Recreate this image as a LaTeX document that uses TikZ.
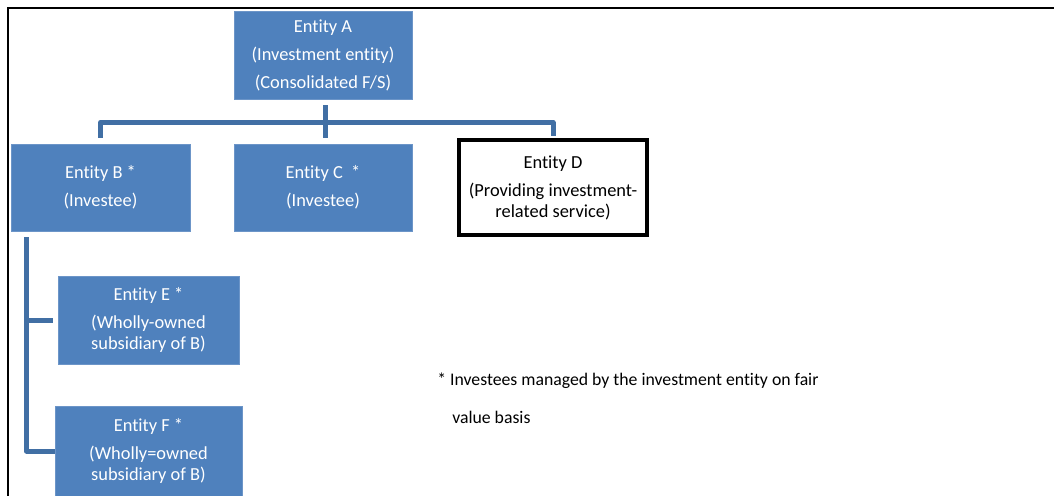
\documentclass[tikz,border=0pt]{standalone}
\usepackage{fontspec}
\setmainfont{Carlito}[Ligatures=NoCommon]
\usetikzlibrary{calc, positioning}

\definecolor{boxblue}{HTML}{4F81BD}
\definecolor{boxedge}{HTML}{6C95C8}
\definecolor{linkblue}{HTML}{416FA4}

\begin{document}
\begin{tikzpicture}[x=0.75pt, y=-0.75pt, inner sep=0pt,
    every node/.style={font=\fontsize{13.8}{15.75}\selectfont},
    entity/.style={fill=boxblue, draw=boxedge, line width=0.6pt,
      text=white, align=center, minimum width=133.5pt, minimum height=66pt},
    service/.style={draw=black, line width=3pt, fill=white, align=center,
      minimum width=141pt, minimum height=71.25pt},
    link/.style={draw=linkblue, line width=3.75pt, line join=round},
    footnote/.style={anchor=base west, font=\fontsize{13.3}{15.75}\selectfont},
    frame/.style={draw=black, line width=1.8pt}]
    \useasboundingbox (0,0) rectangle (1054,496);
    \clip (0,0) rectangle (1054,496);

    \draw[frame] (8,496) -- (8,8) -- (1054,8);

    \node[entity] at (323, 55) (a) {Entity A\\[5.25pt] (Investment entity)\\[5.25pt] (Consolidated F/S)};
    \node[entity, minimum width=134.25pt, minimum height=65.25pt] at (100.5, 187.5) (b) {Entity B *\\[5.25pt] (Investee)};
    \node[entity, minimum height=65.25pt] at (323, 187.5) (c) {Entity C~~*\\[5.25pt] (Investee)};
    \node[service] at (553, 187.5) (d) {Entity D\\[5.25pt] (Providing investment-\\ related service)};
    \node[entity, minimum width=135.75pt] at (148.5, 320) (e) {Entity E *\\[5.25pt] (Wholly-owned\\ subsidiary of B)};
    \node[entity, minimum width=140.25pt, minimum height=67.5pt] at (148.5, 451) (f) {Entity F *\\[5.25pt] (Wholly=owned\\ subsidiary of B)};

    \node[footnote] at (437, 385) (note) {* Investees managed by the investment entity on fair};
    \node[footnote] at (452, 423) (note2) {value basis};

    % A down to its investees
    \draw[link] ($(a.south)+(2,6)$) -- ($(c.north)+(2,-6)$);
    \draw[link] ($(b.north)+(0,-6)$) |- ($(a.south)+(0,23)$) -| ($(d.north)+(0,-2)$);

    % B down to its subsidiaries
    \coordinate (spine) at ($(b.south west)+(16,6)$);
    \draw[link] (spine) |- (f.west);
    \draw[link] (spine |- e.west) -- ($(e.west)+(-5,0)$);
\end{tikzpicture}
\end{document}
